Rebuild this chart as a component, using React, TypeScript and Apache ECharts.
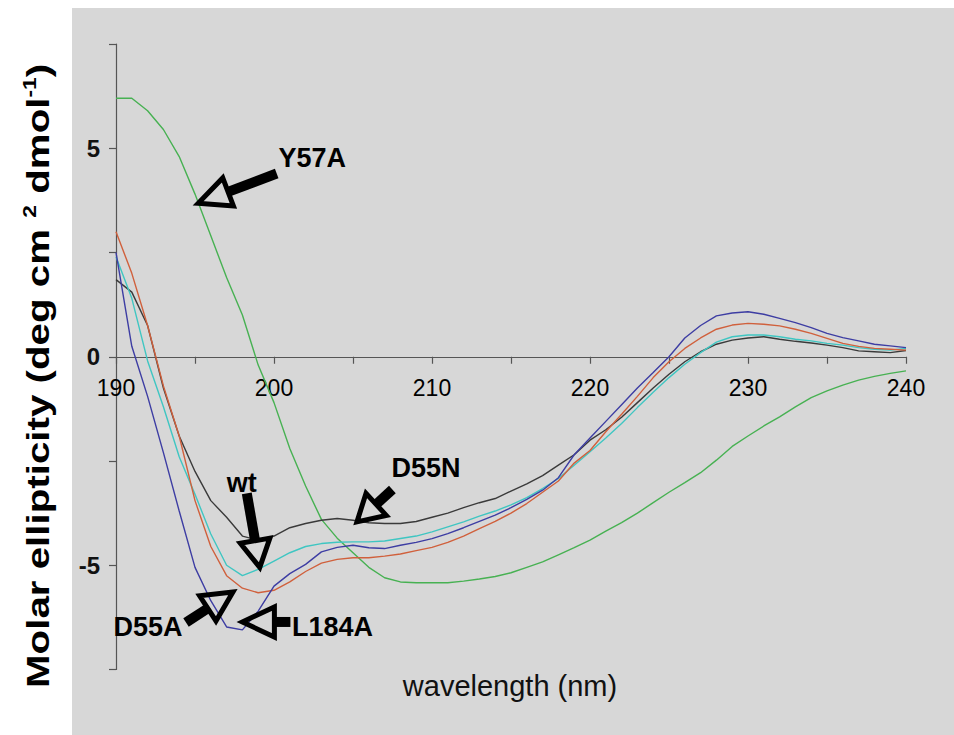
import React, { useEffect, useRef } from "react";
import * as echarts from "echarts";

// Wavelength grid (nm)
const wavelengths = [
  190, 191, 192, 193, 194, 195, 196, 197, 198, 199,
  200, 201, 202, 203, 204, 205, 206, 207, 208, 209,
  210, 211, 212, 213, 214, 215, 216, 217, 218, 219,
  220, 221, 222, 223, 224, 225, 226, 227, 228, 229,
  230, 231, 232, 233, 234, 235, 236, 237, 238, 239, 240,
];

// Molar ellipticity per variant, one value per wavelength
const y57a = [
  6.2, 6.2, 5.9, 5.45, 4.8, 3.9, 2.9, 1.9, 1.0, -0.2,
  -1.1, -2.2, -3.1, -3.9, -4.35, -4.7, -5.05, -5.3, -5.4, -5.42,
  -5.42, -5.42, -5.38, -5.33, -5.27, -5.18, -5.05, -4.92, -4.75, -4.58,
  -4.4, -4.18, -3.98, -3.75, -3.5, -3.25, -3.02, -2.78, -2.48, -2.15,
  -1.9, -1.66, -1.44, -1.2, -0.98, -0.82, -0.68, -0.56, -0.47, -0.4, -0.34,
];
const d55n = [
  1.85, 1.55, 0.75, -0.75, -1.9, -2.75, -3.45, -3.85, -4.3, -4.4,
  -4.3, -4.1, -4.0, -3.92, -3.88, -3.92, -3.98, -4.0, -4.0, -3.95,
  -3.85, -3.75, -3.62, -3.5, -3.4, -3.22, -3.05, -2.85, -2.6, -2.35,
  -2.0, -1.75, -1.45, -1.1, -0.75, -0.42, -0.12, 0.12, 0.3, 0.4,
  0.45, 0.48, 0.42, 0.37, 0.33, 0.28, 0.22, 0.14, 0.12, 0.1, 0.15,
];
const wt = [
  2.4, 1.4, -0.1, -1.2, -2.4, -3.3, -4.25, -5.0, -5.25, -5.1,
  -4.9, -4.7, -4.55, -4.48, -4.45, -4.44, -4.44, -4.42, -4.36, -4.3,
  -4.2, -4.08, -3.96, -3.82, -3.7, -3.55, -3.38, -3.16, -2.92, -2.6,
  -2.28, -1.95, -1.6, -1.22, -0.85, -0.5, -0.18, 0.1, 0.35, 0.48,
  0.52, 0.52, 0.48, 0.42, 0.38, 0.32, 0.28, 0.22, 0.18, 0.16, 0.2,
];
const d55a = [
  3.0, 2.0, 0.75, -0.7, -1.9, -3.45, -4.55, -5.25, -5.55, -5.66,
  -5.6, -5.4, -5.15, -4.95, -4.86, -4.82, -4.82, -4.78, -4.73, -4.65,
  -4.57, -4.45, -4.3, -4.12, -3.95, -3.75, -3.52, -3.25, -2.98, -2.55,
  -2.25, -1.8, -1.38, -0.95, -0.5, -0.12, 0.2, 0.45, 0.66, 0.76,
  0.8, 0.78, 0.74, 0.66, 0.56, 0.44, 0.32, 0.25, 0.2, 0.18, 0.16,
];
const l184a = [
  2.5, 0.25, -0.95, -2.3, -3.7, -5.05, -5.85, -6.48, -6.55, -6.1,
  -5.5, -5.2, -4.98, -4.68, -4.57, -4.52, -4.58, -4.6, -4.52, -4.45,
  -4.36, -4.24, -4.1, -3.95, -3.8, -3.62, -3.42, -3.2, -2.9, -2.35,
  -1.95, -1.55, -1.15, -0.75, -0.38, 0.0, 0.45, 0.75, 0.98, 1.05,
  1.08, 1.02, 0.92, 0.82, 0.7, 0.56, 0.46, 0.38, 0.3, 0.26, 0.22,
];

const seriesNames = ["Y57A", "D55N", "wt", "D55A", "L184A"];
const seriesValues = [y57a, d55n, wt, d55a, l184a];
const seriesColors = ["#47b152", "#3a3a3a", "#3fc6c2", "#d0603c", "#3d3da3"];

// Callout arrows: tip in data space, tail direction in screen space
const calloutLabels = ["Y57A", "wt", "D55N", "D55A", "L184A"];
const calloutTips = [
  [195.2, 3.68],
  [199.1, -5.05],
  [205.25, -3.96],
  [197.4, -5.64],
  [198.0, -6.36],
];
const calloutDirs = [
  [79, -30],
  [-13, -74],
  [35, -32],
  [-46, 30],
  [1, 0],
];
const calloutLengths = [84, 75, 48, 56, 48];
const calloutHeads = [32, 27, 26, 30, 32];
const calloutLabelOffsets = [
  [114, -45],
  [-18, -84],
  [69, -54],
  [-85, 35],
  [90, 5],
];

const W = 954;
const H = 735;
const GRID_TOP = 44;
const GRID_BOTTOM = 65.5;
const Y_MIN = -7.5;
const Y_MAX = 7.5;

export default function App() {
  const ref = useRef<HTMLDivElement>(null);

  useEffect(() => {
    if (!ref.current) return;
    const chart = echarts.init(ref.current, null, { renderer: "svg" });

    const font = "'Liberation Sans', Arial, Helvetica, sans-serif";

    // Pull the wavelength axis up from the grid's bottom edge to the y = 0 line
    const plotH = H - GRID_TOP - GRID_BOTTOM;
    const zeroOffset = -plotH * ((0 - Y_MIN) / (Y_MAX - Y_MIN));

    chart.setOption({
      animation: false,
      backgroundColor: "#d7d7d7",
      grid: { left: 116, right: 48, top: GRID_TOP, bottom: GRID_BOTTOM, containLabel: false },
      xAxis: {
        type: "value",
        min: 190,
        max: 240,
        interval: 5,
        position: "bottom",
        offset: zeroOffset,
        axisLine: { onZero: false, lineStyle: { color: "#555", width: 1.2 } },
        axisTick: { show: true, inside: false, length: 7, lineStyle: { color: "#555", width: 1.2 } },
        axisLabel: {
          margin: 20,
          color: "#000",
          fontFamily: font,
          fontSize: 23,
          formatter: (v: number) => (v % 10 === 0 ? String(v) : ""),
        },
        splitLine: { show: false },
      },
      yAxis: {
        type: "value",
        min: Y_MIN,
        max: Y_MAX,
        interval: 2.5,
        axisLine: { show: true, onZero: false, lineStyle: { color: "#555", width: 1.2 } },
        axisTick: { show: true, inside: false, length: 7, lineStyle: { color: "#555", width: 1.2 } },
        axisLabel: {
          margin: 16,
          color: "#111",
          fontFamily: font,
          fontWeight: "bold",
          fontSize: 24,
          formatter: (v: number) => (v === 5 || v === 0 || v === -5 ? String(v) : ""),
        },
        splitLine: { show: false },
      },
      series: seriesNames.map((name, i) => ({
        name,
        type: "line",
        data: wavelengths.map((w, j) => [w, seriesValues[i][j]]),
        showSymbol: false,
        symbol: "none",
        lineStyle: { color: seriesColors[i], width: 1.4 },
        z: 3,
      })),
    });

    const els: any[] = [
      { type: "rect", shape: { x: 0, y: 0, width: 72, height: H }, style: { fill: "#ffffff" }, z: 1, silent: true },
      { type: "rect", shape: { x: 0, y: 0, width: W, height: 8 }, style: { fill: "#ffffff" }, z: 1, silent: true },
      {
        type: "text",
        x: 38,
        y: 376,
        rotation: Math.PI / 2,
        scaleX: 1.26,
        z: 10,
        style: {
          text: "{a|Molar ellipticity (deg cm }{s|2}{a| dmol}{s|-1}{a|)}",
          align: "center",
          verticalAlign: "middle",
          rich: {
            a: { fontFamily: font, fontWeight: "bold", fontSize: 32, fill: "#000", lineHeight: 36 },
            s: { fontFamily: font, fontWeight: "bold", fontSize: 18, fill: "#000", lineHeight: 36, verticalAlign: "top" },
          },
        },
      },
      {
        type: "text",
        x: 510,
        y: 686,
        z: 10,
        style: {
          text: "wavelength (nm)",
          align: "center",
          verticalAlign: "middle",
          fontFamily: font,
          fontSize: 29,
          fill: "#111",
        },
      },
    ];

    calloutLabels.forEach((label, i) => {
      const tip = chart.convertToPixel({ gridIndex: 0 }, calloutTips[i]) as number[];
      const [dx, dy] = calloutDirs[i];
      const n = Math.hypot(dx, dy);
      const ux = dx / n;
      const uy = dy / n;
      const px = -uy;
      const py = ux;
      const head = calloutHeads[i];
      const half = 15;
      const bx = tip[0] + ux * head;
      const by = tip[1] + uy * head;
      const ex = tip[0] + ux * calloutLengths[i];
      const ey = tip[1] + uy * calloutLengths[i];
      els.push({
        type: "line",
        z: 20,
        shape: { x1: bx, y1: by, x2: ex, y2: ey },
        style: { stroke: "#000", lineWidth: 10, lineCap: "butt" },
      });
      els.push({
        type: "polygon",
        z: 21,
        shape: {
          points: [
            [tip[0], tip[1]],
            [bx + px * half, by + py * half],
            [bx - px * half, by - py * half],
          ],
        },
        style: { fill: "rgba(0,0,0,0)", stroke: "#000", lineWidth: 5, lineJoin: "miter" },
      });
      els.push({
        type: "text",
        z: 22,
        x: tip[0] + calloutLabelOffsets[i][0],
        y: tip[1] + calloutLabelOffsets[i][1],
        style: {
          text: label,
          align: "center",
          verticalAlign: "middle",
          fontFamily: font,
          fontWeight: "bold",
          fontSize: 27,
          fill: "#000",
        },
      });
    });

    chart.setOption({ graphic: { elements: els } });

    return () => chart.dispose();
  }, []);

  return (
    <div
      ref={ref}
      style={{ position: "absolute", left: 0, top: 0, width: W, height: H }}
    />
  );
}
